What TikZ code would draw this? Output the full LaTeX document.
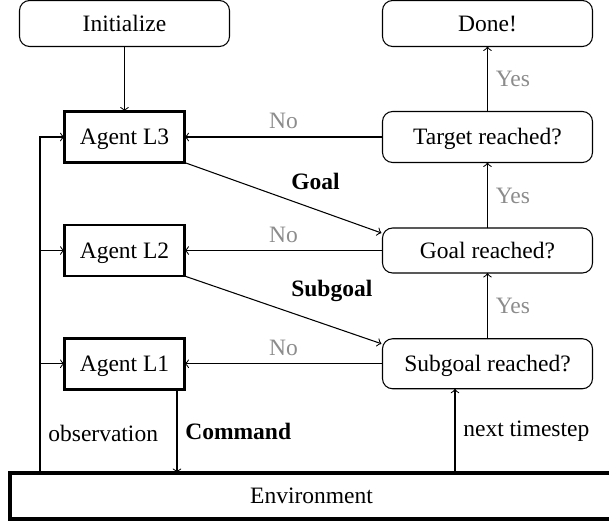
\documentclass[tikz,border=0pt]{standalone}
\usepackage{fontspec}
\setmainfont{Liberation Serif}
\usetikzlibrary{calc}
\newcommand\pxu{0.4255pt}
\begin{document}
\begin{tikzpicture}[x=0.4255pt, y=-0.4255pt,
  box/.style={draw, line width=0.45pt, rounded corners=4.3pt, inner sep=0pt, outer sep=0pt,
    minimum width=210*\pxu, text height=0.66em, text depth=0pt},
  agentbox/.style={draw, line width=1.25pt, inner sep=0pt, outer sep=0pt,
    minimum width=120*\pxu, minimum height=51*\pxu, text height=0.66em, text depth=0pt},
  envbox/.style={draw, line width=1.4pt, inner sep=0pt, outer sep=0pt,
    minimum width=603*\pxu, minimum height=46*\pxu, text height=0.66em, text depth=0pt},
  conn/.style={->, line width=0.45pt},
  ynlabel/.style={text=black!45, text height=0.66em, text depth=0pt},
  boldlabel/.style={font=\bfseries}
]
\useasboundingbox (0,0) rectangle (609,525);

\node[box, minimum height=46*\pxu] (init) at (124.5,23.5) {Initialize};
\node[box, minimum height=46*\pxu] (done) at (487.5,23.5) {Done!};
\node[agentbox] (a3) at (124.5,137) {Agent L3};
\node[box, minimum height=51*\pxu] (tr) at (487.5,137) {Target reached?};
\node[agentbox] (a2) at (124.5,250.5) {Agent L2};
\node[box, minimum height=45*\pxu] (gr) at (487.5,250.5) {Goal reached?};
\node[agentbox] (a1) at (124.5,363.75) {Agent L1};
\node[box, minimum height=50*\pxu] (sr) at (487.5,363.75) {Subgoal reached?};
\node[envbox] (env) at (311.5,496) {Environment};

\coordinate (obsx) at (40,0);
\coordinate (cmdx) at (177,0);
\coordinate (nextx) at (455,0);

\draw[conn] (init) -- (a3);
\draw[conn] (tr) -- node[ynlabel, right]{Yes} (done);
\draw[conn] (gr) -- node[ynlabel, right]{Yes} (tr);
\draw[conn] (sr) -- node[ynlabel, right]{Yes} (gr);
\draw[conn] (tr) -- node[ynlabel, above]{No} (a3);
\draw[conn] (gr) -- node[ynlabel, above]{No} (a2);
\draw[conn] (sr) -- node[ynlabel, above]{No} (a1);
\draw[conn] (a3.south east) -- node[above right, boldlabel]{Goal} ($(gr.north west)+(-1,5)$);
\draw[conn] (a2.south east) -- node[above right, boldlabel]{Subgoal} ($(sr.north west)+(-1,5)$);
\draw[conn] (a1.south -| cmdx) -- node[right, boldlabel]{Command} (env.north -| cmdx);
\draw[conn] (env.north -| nextx) -- node[right]{next timestep} (sr.south -| nextx);
\draw[conn] (env.north -| obsx) -- node[right, pos=0.117]{observation} (obsx |- a3) -- (a3);
\draw[conn] (obsx |- a2) -- (a2);
\draw[conn] (obsx |- a1) -- (a1);
\end{tikzpicture}
\end{document}
